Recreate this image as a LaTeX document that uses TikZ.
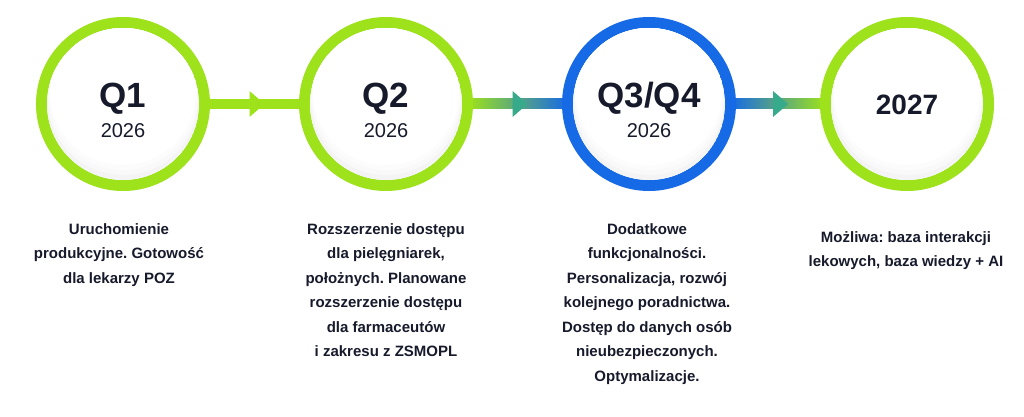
\documentclass[tikz,border=0pt]{standalone}
\usepackage{fontspec}
\setmainfont{Liberation Sans}
\usepackage{tikz}
\usetikzlibrary{calc,backgrounds}
\frenchspacing

\definecolor{limegreen}{RGB}{158,226,27}
\definecolor{stageblue}{RGB}{22,106,230}
\definecolor{midteal}{RGB}{56,170,140}
\definecolor{inktext}{RGB}{22,26,43}

\tikzset{
  stage/.style={circle,draw=#1,line width=11pt,fill=white,minimum size=163pt,inner sep=0pt,outer sep=0pt},
  quarter/.style={anchor=base,text=inktext,font=\bfseries\fontsize{35}{35}\selectfont},
  yearlabel/.style={anchor=base,text=inktext,font=\fontsize{20}{20}\selectfont},
  desc/.style={anchor=north,align=center,inner sep=0pt,text=inktext,font=\bfseries\fontsize{15}{24.5}\selectfont}
}

\begin{document}
\begin{tikzpicture}[x=1pt,y=-1pt]
  \useasboundingbox (0,0) rectangle (1024,417);

  % etapy
  \node[stage=limegreen] (q1) at (123,104) {};
  \node[stage=limegreen] (q2) at (386,104) {};
  \node[stage=stageblue] (q3) at (649,104) {};
  \node[stage=limegreen] (q4) at (907,104) {};

  % cien w kolach
  \foreach \s in {q1,q2,q3,q4}
  {
    \begin{scope}
      \clip (\s.center) circle (76);
      \fill[gray!9] (\s.center) circle (76);
      \fill[gray!5] ($(\s.center)+(0,-4)$) circle (75);
      \fill[gray!2] ($(\s.center)+(0,-8)$) circle (74);
      \fill[white] ($(\s.center)+(0,-12)$) circle (73);
    \end{scope}
  }

  % polaczenia
  \begin{scope}[on background layer]
    \fill[white] (0,0) rectangle (1024,417);
    \fill[limegreen] ($(q1.east)+(0,-5)$) rectangle ($(q2.west)+(0,5)$);
    \shade[left color=limegreen,middle color=midteal,right color=stageblue]
      ($(q2.east)+(0,-5)$) rectangle ($(q3.west)+(0,5)$);
    \shade[left color=stageblue,middle color=midteal,right color=limegreen]
      ($(q3.east)+(0,-5)$) rectangle ($(q4.west)+(0,5)$);
    \coordinate (m12) at ($(q1.east)!0.5!(q2.west)$);
    \coordinate (m23) at ($(q2.east)!0.5!(q3.west)$);
    \coordinate (m34) at ($(q3.east)!0.5!(q4.west)$);
    \fill[limegreen] ($(m12)+(-5,-13)$) -- ($(m12)+(10,0)$) -- ($(m12)+(-5,13)$) -- cycle;
    \fill[midteal] ($(m23)+(-5,-13)$) -- ($(m23)+(10,0)$) -- ($(m23)+(-5,13)$) -- cycle;
    \fill[midteal] ($(m34)+(-5,-13)$) -- ($(m34)+(10,0)$) -- ($(m34)+(-5,13)$) -- cycle;
  \end{scope}

  % napisy w kolach
  \node[quarter] (q1t) at ([yshift=-3pt]q1.center) {Q1};
  \node[yearlabel] (q1y) at ([yshift=-33pt]q1.center) {2026};
  \node[quarter] (q2t) at ([yshift=-3pt]q2.center) {Q2};
  \node[yearlabel] (q2y) at ([yshift=-33pt]q2.center) {2026};
  \node[quarter] (q3t) at ([yshift=-3pt]q3.center) {Q3/Q4};
  \node[yearlabel] (q3y) at ([yshift=-33pt]q3.center) {2026};
  \node[quarter,font=\bfseries\fontsize{28}{28}\selectfont] (q4t) at ([yshift=-10pt]q4.center) {2027};

  % opisy
  \node[desc] (q1d) at ([xshift=-4pt,yshift=-119pt]q1.center)
  {Uruchomienie\\produkcyjne. Gotowość\\dla lekarzy POZ};
  \node[desc] (q2d) at ([yshift=-119pt]q2.center)
  {Rozszerzenie dostępu\\dla pielęgniarek,\\położnych. Planowane\\rozszerzenie dostępu\\dla farmaceutów\\i zakresu z ZSMOPL};
  \node[desc] (q3d) at ([xshift=-2pt,yshift=-119pt]q3.center)
  {Dodatkowe\\funkcjonalności.\\Personalizacja, rozwój\\kolejnego poradnictwa.\\Dostęp do danych osób\\nieubezpieczonych.\\Optymalizacje.};
  \node[desc] (q4d) at ([xshift=-1pt,yshift=-127pt]q4.center)
  {Możliwa: baza interakcji\\lekowych, baza wiedzy + AI};
\end{tikzpicture}
\end{document}
